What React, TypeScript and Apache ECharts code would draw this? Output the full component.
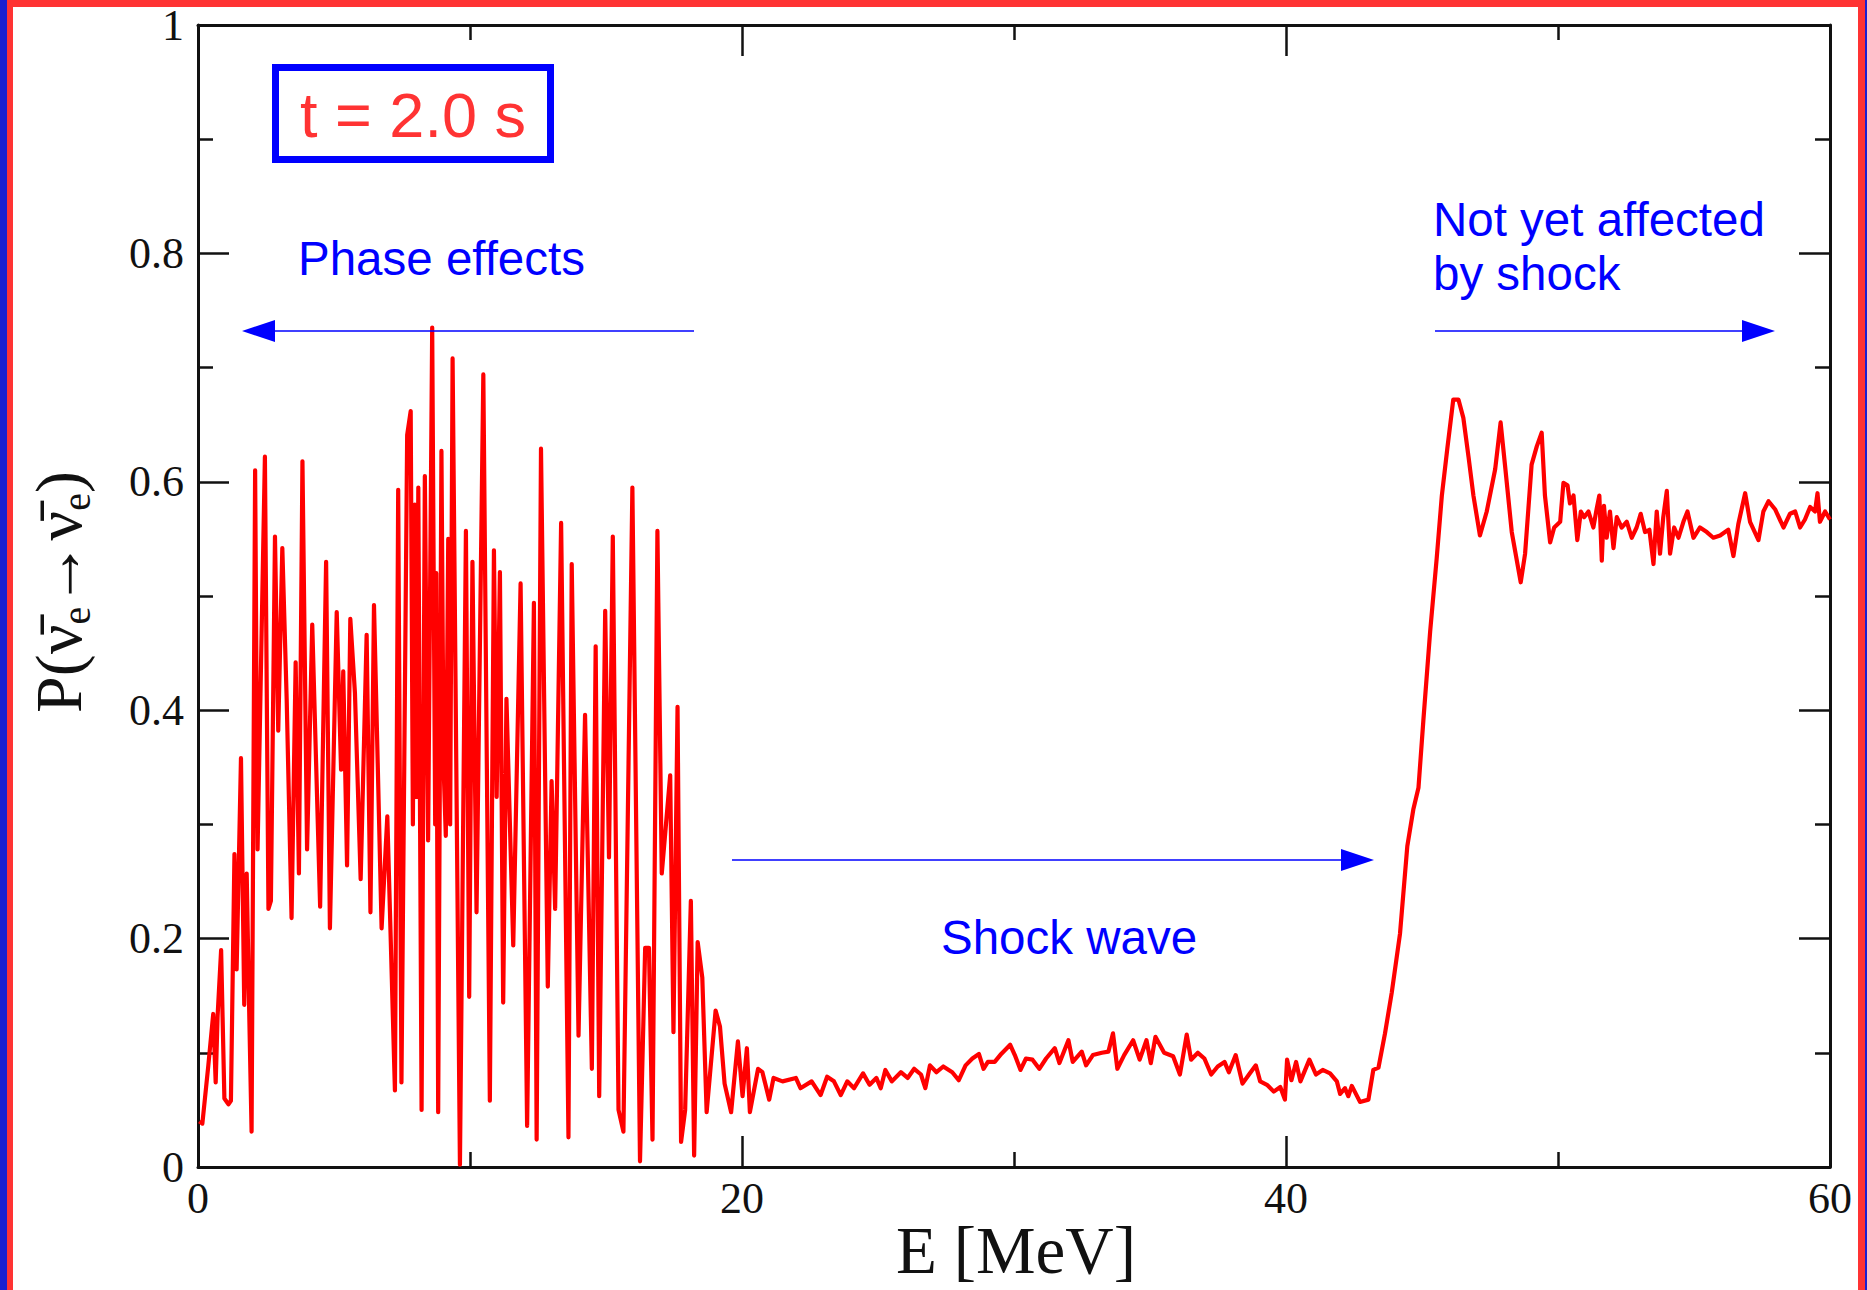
import React, { useEffect, useRef } from "react";
import * as echarts from "echarts";

// Energy E [MeV] vs survival probability
const phaseLow: [number, number][] = [
  [0.05, 0.04], [0.16, 0.038], [0.38, 0.089], [0.56, 0.134], [0.65, 0.074], [0.72, 0.132], [0.85, 0.19],
  [0.97, 0.06], [1.12, 0.055], [1.21, 0.058], [1.34, 0.274], [1.42, 0.173], [1.58, 0.358],
  [1.7, 0.142], [1.79, 0.257], [1.88, 0.139], [1.97, 0.031], [2.1, 0.61], [2.19, 0.278],
  [2.46, 0.622], [2.59, 0.226], [2.68, 0.233], [2.83, 0.552], [2.95, 0.382], [3.1, 0.542],
  [3.26, 0.41], [3.44, 0.218], [3.59, 0.442], [3.71, 0.257], [3.84, 0.618], [4.01, 0.278],
  [4.2, 0.475], [4.49, 0.228], [4.71, 0.53], [4.85, 0.209], [5.1, 0.486], [5.26, 0.348],
  [5.34, 0.434], [5.48, 0.264], [5.6, 0.48], [5.77, 0.415], [5.98, 0.252], [6.2, 0.466],
  [6.34, 0.223],
];

const phaseMid: [number, number][] = [
  [6.47, 0.492], [6.75, 0.209], [6.96, 0.307], [7.24, 0.067], [7.36, 0.593], [7.48, 0.074],
  [7.69, 0.641], [7.82, 0.662], [7.9, 0.3], [7.97, 0.58], [8.03, 0.324], [8.1, 0.595], [8.22, 0.05], [8.34, 0.605],
  [8.46, 0.286], [8.61, 0.735], [8.72, 0.3], [8.76, 0.52], [8.83, 0.048], [8.95, 0.627], [9.03, 0.35], [9.11, 0.29], [9.2, 0.55], [9.27, 0.3], [9.36, 0.708],
  [9.63, 0.002], [9.85, 0.557], [9.97, 0.149], [10.09, 0.53], [10.24, 0.223], [10.49, 0.694],
  [10.73, 0.058], [10.88, 0.54], [10.98, 0.324], [11.1, 0.521], [11.22, 0.144], [11.34, 0.41],
  [11.59, 0.194], [11.86, 0.511], [12.1, 0.036], [12.35, 0.494], [12.45, 0.024], [12.61, 0.629],
];

const phaseHigh: [number, number][] = [
  [12.86, 0.158], [13.0, 0.338], [13.13, 0.226], [13.35, 0.564], [13.62, 0.026], [13.74, 0.528],
  [13.99, 0.115], [14.23, 0.396], [14.48, 0.086], [14.62, 0.456], [14.75, 0.062], [14.97, 0.487],
  [15.11, 0.271], [15.25, 0.552], [15.46, 0.05], [15.64, 0.031], [15.97, 0.595], [16.25, 0.005],
  [16.44, 0.192], [16.58, 0.192], [16.71, 0.024], [16.89, 0.557], [17.05, 0.257], [17.36, 0.343],
  [17.48, 0.118], [17.63, 0.403], [17.76, 0.022], [17.91, 0.05], [18.12, 0.233], [18.24, 0.01],
  [18.37, 0.197], [18.54, 0.166],
];

const shockWave: [number, number][] = [
  [18.7, 0.048], [19.03, 0.137], [19.19, 0.123], [19.36, 0.073], [19.6, 0.048], [19.85, 0.11],
  [20.02, 0.062], [20.18, 0.104], [20.29, 0.048], [20.59, 0.086], [20.75, 0.083], [21.0, 0.059],
  [21.16, 0.078], [21.49, 0.075], [21.98, 0.078], [22.15, 0.069], [22.56, 0.075], [22.89, 0.063],
  [23.13, 0.079], [23.38, 0.075], [23.63, 0.063], [23.87, 0.075], [24.12, 0.069], [24.45, 0.082],
  [24.69, 0.072], [24.94, 0.078], [25.1, 0.069], [25.27, 0.085], [25.51, 0.075], [25.84, 0.083],
  [26.09, 0.078], [26.33, 0.086], [26.58, 0.081], [26.74, 0.069], [26.91, 0.089], [27.15, 0.083],
  [27.4, 0.088], [27.73, 0.083], [27.97, 0.076], [28.22, 0.089], [28.47, 0.095], [28.71, 0.099],
  [28.88, 0.086], [29.04, 0.092], [29.29, 0.092], [29.53, 0.099], [29.86, 0.107], [30.03, 0.098],
  [30.24, 0.085], [30.44, 0.095], [30.68, 0.094], [30.93, 0.086], [31.18, 0.095], [31.5, 0.104],
  [31.67, 0.091], [32.0, 0.111], [32.16, 0.092], [32.49, 0.101], [32.65, 0.089], [32.9, 0.098],
  [33.23, 0.1], [33.47, 0.101], [33.64, 0.117], [33.8, 0.086], [34.05, 0.098], [34.38, 0.111],
  [34.62, 0.094], [34.87, 0.111], [35.03, 0.091], [35.2, 0.114], [35.52, 0.1], [35.85, 0.097],
  [36.1, 0.081], [36.35, 0.116], [36.51, 0.094], [36.76, 0.1], [37.0, 0.095], [37.25, 0.081],
  [37.49, 0.088], [37.74, 0.092], [37.9, 0.083], [38.15, 0.098], [38.4, 0.073], [38.64, 0.081],
  [38.89, 0.089], [39.05, 0.075], [39.3, 0.072], [39.55, 0.066], [39.79, 0.07], [39.96, 0.059],
  [40.04, 0.094], [40.2, 0.076], [40.37, 0.092], [40.53, 0.075], [40.86, 0.094], [41.1, 0.081],
  [41.35, 0.085],
];

const shockRise: [number, number][] = [
  [41.62, 0.082], [41.87, 0.075], [41.99, 0.064], [42.17, 0.069], [42.29, 0.062], [42.42, 0.071],
  [42.72, 0.057], [43.03, 0.059], [43.21, 0.085], [43.4, 0.087], [43.64, 0.117], [43.89, 0.153],
  [44.19, 0.204], [44.46, 0.281], [44.68, 0.313], [44.87, 0.332], [45.05, 0.391], [45.3, 0.469],
  [45.54, 0.533], [45.73, 0.588], [45.93, 0.629], [46.15, 0.672], [46.34, 0.672], [46.52, 0.656],
  [46.71, 0.622], [46.89, 0.588], [47.13, 0.553], [47.38, 0.574], [47.69, 0.611], [47.89, 0.652],
  [48.05, 0.615], [48.3, 0.556], [48.63, 0.512], [48.79, 0.537], [49.03, 0.615], [49.22, 0.631],
  [49.4, 0.643], [49.52, 0.588], [49.71, 0.547], [49.86, 0.56],
];

const plateau: [number, number][] = [
  [50.08, 0.565], [50.2, 0.599], [50.35, 0.597], [50.44, 0.581], [50.57, 0.588], [50.71, 0.549],
  [50.84, 0.574], [50.96, 0.569], [51.12, 0.574], [51.3, 0.56], [51.42, 0.576], [51.52, 0.588],
  [51.61, 0.531], [51.69, 0.579], [51.79, 0.551], [51.91, 0.574], [52.04, 0.542], [52.16, 0.569],
  [52.34, 0.56], [52.53, 0.565], [52.71, 0.551], [52.89, 0.56], [53.04, 0.572], [53.2, 0.556],
  [53.36, 0.558], [53.51, 0.528], [53.63, 0.574], [53.75, 0.537], [53.87, 0.569], [54.0, 0.592],
  [54.12, 0.537], [54.27, 0.56], [54.43, 0.551], [54.61, 0.565], [54.76, 0.574], [54.98, 0.551],
  [55.22, 0.56], [55.47, 0.556], [55.71, 0.551], [55.96, 0.553], [56.26, 0.558], [56.45, 0.535],
  [56.63, 0.563], [56.88, 0.59], [57.06, 0.565], [57.37, 0.549], [57.55, 0.574], [57.74, 0.583],
  [57.98, 0.576], [58.29, 0.56], [58.53, 0.572], [58.72, 0.574], [58.9, 0.56], [59.08, 0.567],
  [59.27, 0.578], [59.45, 0.574], [59.54, 0.59], [59.63, 0.565], [59.82, 0.574], [60.0, 0.567],
];

const xTicks = [0, 20, 40, 60];
const yTicks = [0, 0.2, 0.4, 0.6, 0.8, 1];

const SERIF = "'Liberation Serif', 'DejaVu Serif', serif";
const SANS = "'Liberation Sans', Arial, sans-serif";
const BLUE = "#0000ff";

function arrow(x1: number, x2: number, y: number) {
  const dir = x2 > x1 ? 1 : -1;
  const headLen = 33;
  const half = 11;
  const base = x2 - dir * headLen;
  return [
    { type: "line", shape: { x1, y1: y, x2: base, y2: y }, style: { stroke: BLUE, lineWidth: 1.5 }, z: 20 },
    {
      type: "polygon",
      shape: { points: [[x2, y], [base, y - half], [base, y + half]] },
      style: { fill: BLUE },
      z: 20,
    },
  ];
}

export default function App() {
  const ref = useRef<HTMLDivElement>(null);
  useEffect(() => {
    document.body.style.margin = "0";
    const chart = echarts.init(ref.current!, null, { renderer: "svg" });
    const data = [...phaseLow, ...phaseMid, ...phaseHigh, ...shockWave, ...shockRise, ...plateau];
    const xMin = xTicks[0];
    const xMax = xTicks[xTicks.length - 1];
    const xInt = xTicks[1] - xTicks[0];
    const yMin = yTicks[0];
    const yMax = yTicks[yTicks.length - 1];
    const yInt = yTicks[1] - yTicks[0];

    const axisLine = { show: true, onZero: false, lineStyle: { color: "#111", width: 3 } };
    const tick = { show: true, inside: true, length: 31, lineStyle: { color: "#111", width: 2.5 } };
    const minor = { show: true, splitNumber: 2, length: 15, lineStyle: { color: "#111", width: 2.5 } };
    const label = { fontFamily: SERIF, fontSize: 44, color: "#111" };

    chart.setOption({
      animation: false,
      backgroundColor: "#ffffff",
      grid: { left: 198, top: 25, right: 37, bottom: 123, containLabel: false },
      xAxis: [
        {
          type: "value", min: xMin, max: xMax, interval: xInt, position: "bottom",
          axisLine, axisTick: tick, minorTick: minor, splitLine: { show: false },
          axisLabel: { ...label, margin: 9 },
        },
        {
          type: "value", min: xMin, max: xMax, interval: xInt, position: "top",
          axisLine, axisTick: tick, minorTick: minor, splitLine: { show: false },
          axisLabel: { show: false },
        },
      ],
      yAxis: [
        {
          type: "value", min: yMin, max: yMax, interval: yInt, position: "left",
          axisLine, axisTick: tick, minorTick: minor, splitLine: { show: false },
          axisLabel: { ...label, margin: 14 },
        },
        {
          type: "value", min: yMin, max: yMax, interval: yInt, position: "right",
          axisLine, axisTick: tick, minorTick: minor, splitLine: { show: false },
          axisLabel: { show: false },
        },
      ],
      series: [
        {
          type: "line",
          xAxisIndex: 0,
          yAxisIndex: 0,
          data,
          showSymbol: false,
          symbol: "none",
          lineStyle: { color: "#ff0000", width: 4.2, join: "round" },
          z: 5,
        },
      ],
      graphic: [
        {
          type: "text", x: 1016, y: 1250,
          style: { text: "E [MeV]", font: `67px ${SERIF}`, fill: "#111", align: "center", verticalAlign: "middle" },
        },
        {
          type: "text", x: 58, y: 592, rotation: Math.PI / 2,
          style: {
            text: "{a|P(ν\u0304}{s|e}{a|→ν\u0304}{s|e}{a|)}",
            align: "center", verticalAlign: "middle",
            rich: {
              a: { fontFamily: SERIF, fontSize: 66, fill: "#111", lineHeight: 76 },
              s: { fontFamily: SERIF, fontSize: 40, fill: "#111", lineHeight: 76, verticalAlign: "bottom" },
            },
          },
        },
        {
          type: "rect",
          shape: { x: 275.5, y: 67.5, width: 275, height: 92 },
          style: { fill: "none", stroke: BLUE, lineWidth: 7 },
          z: 20,
        },
        {
          type: "text", x: 413, y: 115, z: 20,
          style: { text: "t = 2.0 s", font: `63px ${SANS}`, fill: "#ff3333", align: "center", verticalAlign: "middle" },
        },
        {
          type: "text", x: 298, y: 258, z: 20,
          style: { text: "Phase effects", font: `47.5px ${SANS}`, fill: BLUE, align: "left", verticalAlign: "middle" },
        },
        {
          type: "text", x: 941, y: 937, z: 20,
          style: { text: "Shock wave", font: `47.5px ${SANS}`, fill: BLUE, align: "left", verticalAlign: "middle" },
        },
        {
          type: "text", x: 1433, y: 219, z: 20,
          style: { text: "Not yet affected", font: `47.5px ${SANS}`, fill: BLUE, align: "left", verticalAlign: "middle" },
        },
        {
          type: "text", x: 1433, y: 273, z: 20,
          style: { text: "by shock", font: `47.5px ${SANS}`, fill: BLUE, align: "left", verticalAlign: "middle" },
        },
        ...arrow(694, 242, 331),
        ...arrow(732, 1374, 860),
        ...arrow(1435, 1775, 331),
      ],
    });
    return () => chart.dispose();
  }, []);

  return (
    <div style={{ position: "fixed", left: 0, top: 0, width: 1867, height: 1290, background: "#fff", overflow: "hidden" }}>
      <div ref={ref} style={{ position: "absolute", left: 0, top: 0, width: 1867, height: 1290 }} />
      <div style={{ position: "absolute", left: 0, top: 0, width: 7, height: 1290, background: "#1a1fd0" }} />
      <div style={{ position: "absolute", left: 7, top: 0, width: 6, height: 1290, background: "#ff3333" }} />
      <div style={{ position: "absolute", left: 7, top: 0, width: 1860, height: 7, background: "#ff3333" }} />
      <div style={{ position: "absolute", left: 1858, top: 0, width: 7, height: 1290, background: "#ff3333" }} />
      <div style={{ position: "absolute", left: 1865, top: 0, width: 2, height: 1290, background: "#1a1fd0" }} />
    </div>
  );
}
